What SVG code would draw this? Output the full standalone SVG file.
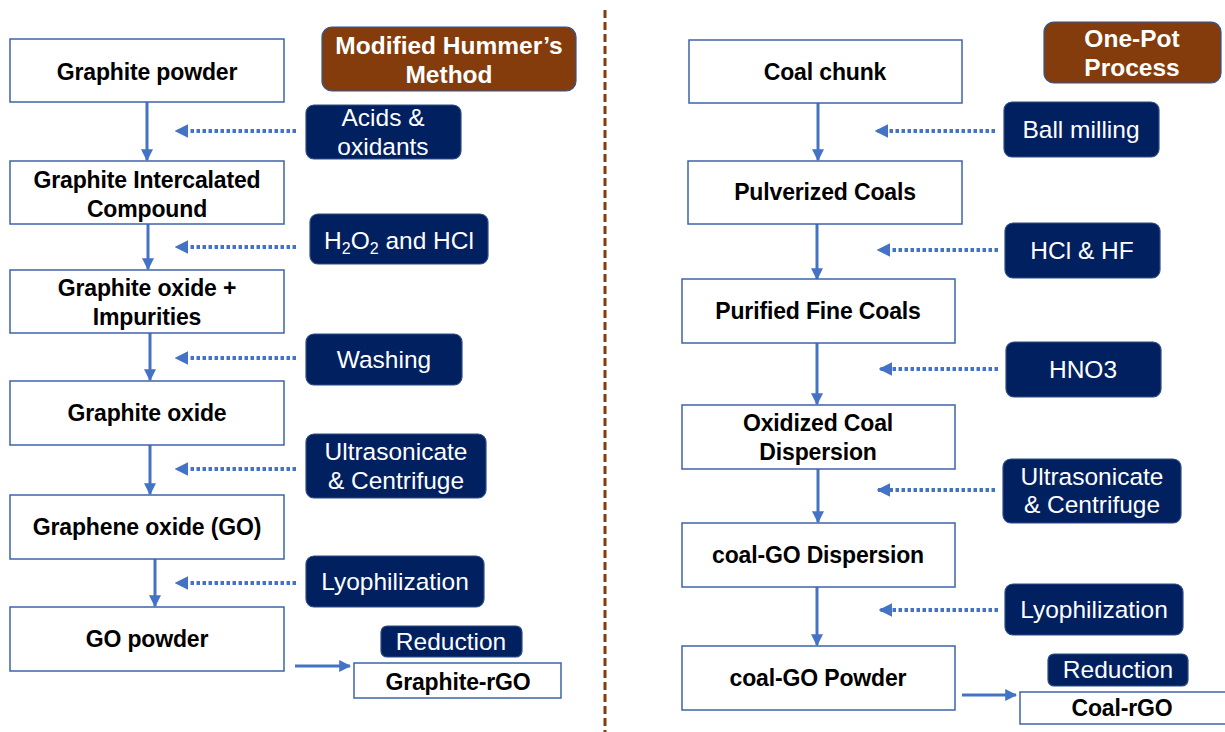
<svg xmlns="http://www.w3.org/2000/svg" width="1225" height="732" viewBox="0 0 1225 732">
  <defs>
    <style>
      .node rect { fill: #ffffff; stroke: #3F63A8; stroke-width: 1.5; }
      .node text { font-family: "Liberation Sans", Arial, sans-serif; font-weight: bold; font-size: 23px; fill: #000000; text-anchor: middle; letter-spacing: -0.15px; }
      .step rect { fill: #002060; stroke: #2F4C84; stroke-width: 1.2; }
      .step text { font-family: "Liberation Sans", Arial, sans-serif; font-size: 24.5px; fill: #ffffff; text-anchor: middle; }
      .title rect { fill: #843C0C; stroke: #2F5597; stroke-width: 1.2; }
      .title text { font-family: "Liberation Sans", Arial, sans-serif; font-weight: bold; font-size: 24.5px; fill: #ffffff; text-anchor: middle; }
      .flow { stroke: #4472C4; stroke-width: 3; fill: none; }
      .feed { stroke: #4472C4; stroke-width: 4; fill: none; stroke-dasharray: 3.5 2.5; }
    </style>
    <marker id="head" viewBox="0 0 10 10" refX="9" refY="5" markerWidth="4" markerHeight="4" orient="auto" markerUnits="strokeWidth">
      <path d="M0,0 L10,5 L0,10 z" fill="#4472C4"/>
    </marker>
    <marker id="headDot" viewBox="0 0 10 10" refX="9" refY="5" markerWidth="3.4" markerHeight="3.4" orient="auto" markerUnits="strokeWidth">
      <path d="M0,0 L10,5 L0,10 z" fill="#4472C4"/>
    </marker>
  </defs>

  <rect x="0" y="0" width="1225" height="732" fill="#ffffff"/>

  <!-- divider between the two routes -->
  <line x1="605" y1="10" x2="605" y2="732" stroke="#843C0C" stroke-width="3" stroke-dasharray="8 4"/>

  <!-- connectors -->
  <g id="connectors">
    <!-- left route: main flow -->
    <line class="flow" x1="147" y1="102" x2="147" y2="160" marker-end="url(#head)"/>
    <line class="flow" x1="148" y1="224" x2="148" y2="269" marker-end="url(#head)"/>
    <line class="flow" x1="150" y1="333" x2="150" y2="380" marker-end="url(#head)"/>
    <line class="flow" x1="150" y1="445" x2="150" y2="494" marker-end="url(#head)"/>
    <line class="flow" x1="155" y1="559" x2="155" y2="606" marker-end="url(#head)"/>
    <line class="flow" x1="295" y1="666" x2="350" y2="666" marker-end="url(#head)"/>
    <!-- left route: reagent inputs -->
    <line class="feed" x1="296" y1="131" x2="176" y2="131" marker-end="url(#headDot)"/>
    <line class="feed" x1="296" y1="247" x2="176" y2="247" marker-end="url(#headDot)"/>
    <line class="feed" x1="296" y1="358" x2="176" y2="358" marker-end="url(#headDot)"/>
    <line class="feed" x1="296" y1="469" x2="176" y2="469" marker-end="url(#headDot)"/>
    <line class="feed" x1="296" y1="583" x2="176" y2="583" marker-end="url(#headDot)"/>

    <!-- right route: main flow -->
    <line class="flow" x1="818" y1="103" x2="818" y2="160" marker-end="url(#head)"/>
    <line class="flow" x1="817" y1="224" x2="817" y2="279" marker-end="url(#head)"/>
    <line class="flow" x1="817" y1="343" x2="817" y2="404" marker-end="url(#head)"/>
    <line class="flow" x1="818" y1="469" x2="818" y2="522" marker-end="url(#head)"/>
    <line class="flow" x1="817" y1="587" x2="817" y2="645" marker-end="url(#head)"/>
    <line class="flow" x1="962" y1="695" x2="1016" y2="695" marker-end="url(#head)"/>
    <!-- right route: reagent inputs -->
    <line class="feed" x1="995" y1="131" x2="876" y2="131" marker-end="url(#headDot)"/>
    <line class="feed" x1="998" y1="250" x2="878" y2="250" marker-end="url(#headDot)"/>
    <line class="feed" x1="998" y1="369" x2="880" y2="369" marker-end="url(#headDot)"/>
    <line class="feed" x1="995" y1="490" x2="878" y2="490" marker-end="url(#headDot)"/>
    <line class="feed" x1="998" y1="610" x2="880" y2="610" marker-end="url(#headDot)"/>
  </g>

  <!-- headers -->
  <g id="title-hummers" class="title">
    <rect x="322" y="27" width="254" height="64" rx="10"/>
    <text x="449" y="54">Modified Hummer’s</text>
    <text x="449" y="83">Method</text>
  </g>
  <g id="title-onepot" class="title">
    <rect x="1044" y="22" width="177" height="61" rx="10"/>
    <text x="1132" y="47">One-Pot</text>
    <text x="1132" y="76">Process</text>
  </g>

  <!-- left route nodes -->
  <g id="graphite-powder" class="node">
    <rect x="10" y="39" width="274" height="63"/>
    <text x="147" y="80">Graphite powder</text>
  </g>
  <g id="graphite-intercalated" class="node">
    <rect x="10" y="161" width="274" height="63"/>
    <text x="147" y="188">Graphite Intercalated</text>
    <text x="147" y="217">Compound</text>
  </g>
  <g id="graphite-oxide-impurities" class="node">
    <rect x="10" y="270" width="274" height="63"/>
    <text x="147" y="296">Graphite oxide +</text>
    <text x="147" y="325">Impurities</text>
  </g>
  <g id="graphite-oxide" class="node">
    <rect x="10" y="381" width="274" height="64"/>
    <text x="147" y="421">Graphite oxide</text>
  </g>
  <g id="graphene-oxide" class="node">
    <rect x="10" y="495" width="274" height="64"/>
    <text x="147" y="535">Graphene oxide (GO)</text>
  </g>
  <g id="go-powder" class="node">
    <rect x="10" y="607" width="274" height="64"/>
    <text x="147" y="647">GO powder</text>
  </g>
  <g id="graphite-rgo" class="node">
    <rect x="354" y="663" width="207" height="35"/>
    <text x="458" y="690">Graphite-rGO</text>
  </g>

  <!-- left route steps -->
  <g id="step-acids" class="step">
    <rect x="306" y="105" width="155" height="54" rx="8"/>
    <text x="383" y="126">Acids &amp;</text>
    <text x="383" y="155">oxidants</text>
  </g>
  <g id="step-h2o2" class="step">
    <rect x="310" y="214" width="178" height="50" rx="8"/>
    <text x="399" y="249">H<tspan font-size="16" dy="5">2</tspan><tspan dy="-5">O</tspan><tspan font-size="16" dy="5">2</tspan><tspan dy="-5"> and HCl</tspan></text>
  </g>
  <g id="step-washing" class="step">
    <rect x="306" y="334" width="156" height="51" rx="8"/>
    <text x="384" y="368">Washing</text>
  </g>
  <g id="step-ultrasonicate-left" class="step">
    <rect x="306" y="434" width="180" height="64" rx="8"/>
    <text x="396" y="460">Ultrasonicate</text>
    <text x="396" y="489">&amp; Centrifuge</text>
  </g>
  <g id="step-lyophilization-left" class="step">
    <rect x="306" y="556" width="178" height="51" rx="8"/>
    <text x="395" y="590">Lyophilization</text>
  </g>
  <g id="step-reduction-left" class="step">
    <rect x="381" y="626" width="141" height="31" rx="6"/>
    <text x="451" y="650">Reduction</text>
  </g>

  <!-- right route nodes -->
  <g id="coal-chunk" class="node">
    <rect x="689" y="40" width="273" height="63"/>
    <text x="825" y="80">Coal chunk</text>
  </g>
  <g id="pulverized-coals" class="node">
    <rect x="688" y="161" width="274" height="63"/>
    <text x="825" y="200">Pulverized Coals</text>
  </g>
  <g id="purified-fine-coals" class="node">
    <rect x="682" y="279" width="273" height="64"/>
    <text x="818" y="319">Purified Fine Coals</text>
  </g>
  <g id="oxidized-coal-dispersion" class="node">
    <rect x="682" y="405" width="273" height="64"/>
    <text x="818" y="431">Oxidized Coal</text>
    <text x="818" y="460">Dispersion</text>
  </g>
  <g id="coal-go-dispersion" class="node">
    <rect x="682" y="523" width="273" height="64"/>
    <text x="818" y="563">coal-GO Dispersion</text>
  </g>
  <g id="coal-go-powder" class="node">
    <rect x="682" y="646" width="273" height="64"/>
    <text x="818" y="686">coal-GO Powder</text>
  </g>
  <g id="coal-rgo" class="node">
    <rect x="1020" y="692" width="215" height="32"/>
    <text x="1122" y="716">Coal-rGO</text>
  </g>

  <!-- right route steps -->
  <g id="step-ball-milling" class="step">
    <rect x="1004" y="102" width="155" height="55" rx="8"/>
    <text x="1081" y="138">Ball milling</text>
  </g>
  <g id="step-hcl-hf" class="step">
    <rect x="1005" y="223" width="155" height="55" rx="8"/>
    <text x="1082" y="259">HCl &amp; HF</text>
  </g>
  <g id="step-hno3" class="step">
    <rect x="1006" y="342" width="155" height="55" rx="8"/>
    <text x="1083" y="378">HNO3</text>
  </g>
  <g id="step-ultrasonicate-right" class="step">
    <rect x="1003" y="459" width="178" height="64" rx="8"/>
    <text x="1092" y="485">Ultrasonicate</text>
    <text x="1092" y="513">&amp; Centrifuge</text>
  </g>
  <g id="step-lyophilization-right" class="step">
    <rect x="1005" y="584" width="178" height="51" rx="8"/>
    <text x="1094" y="618">Lyophilization</text>
  </g>
  <g id="step-reduction-right" class="step">
    <rect x="1048" y="654" width="140" height="32" rx="6"/>
    <text x="1118" y="678">Reduction</text>
  </g>
</svg>
